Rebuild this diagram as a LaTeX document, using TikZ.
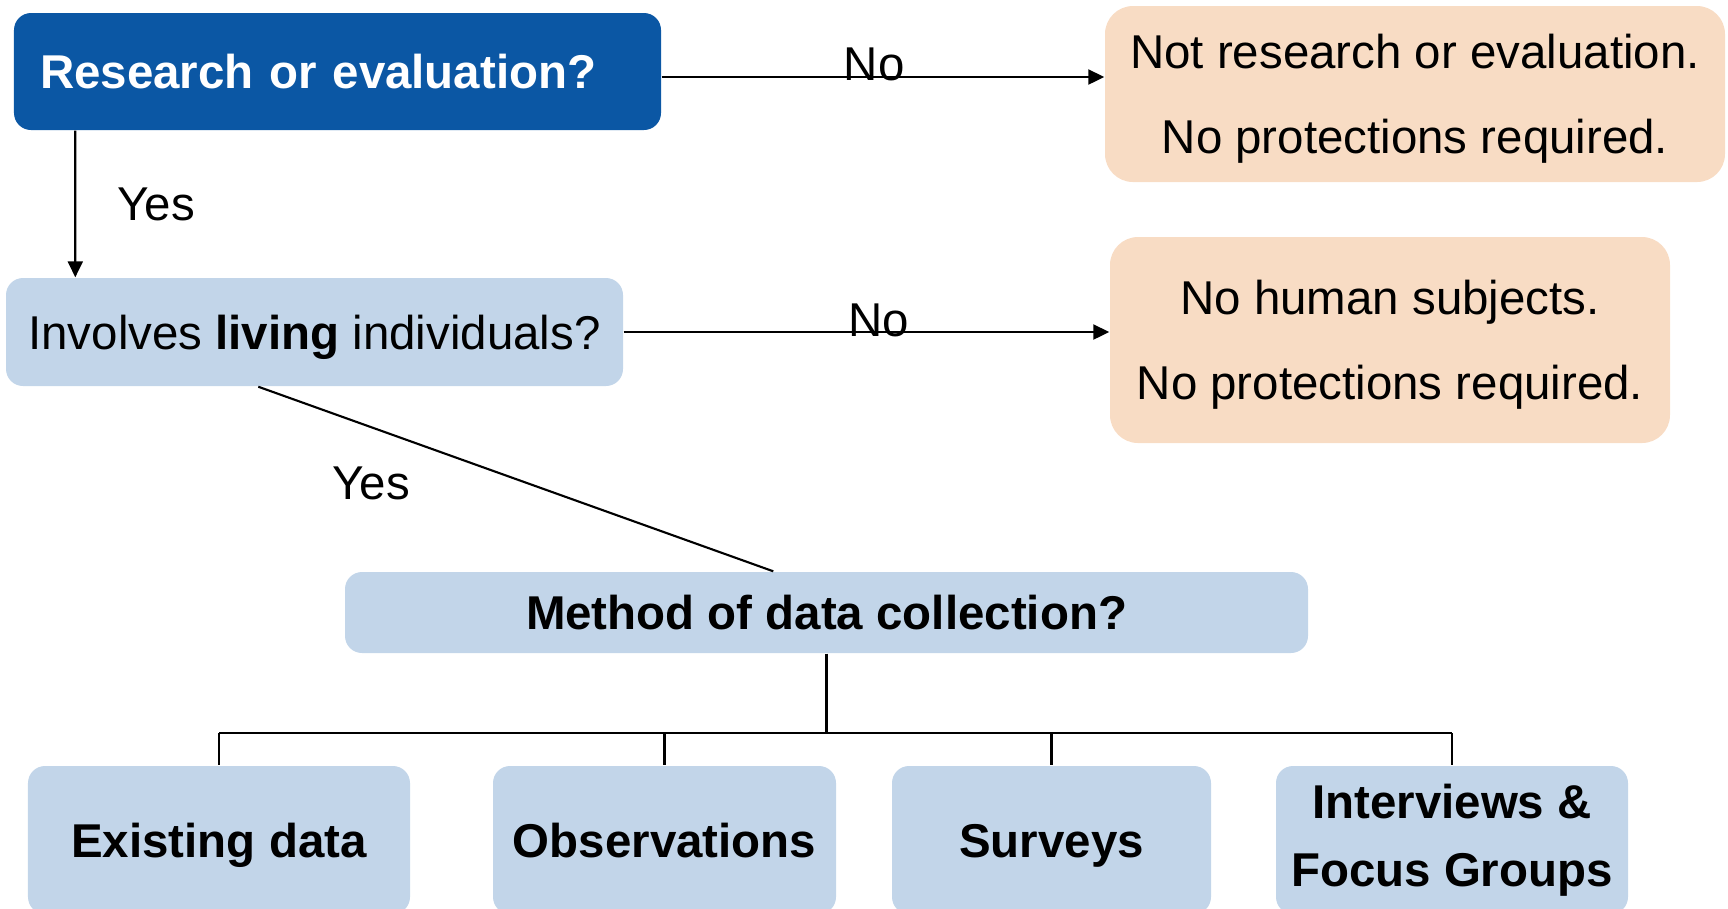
\documentclass[tikz,border=0pt]{standalone}
\usepackage{fontspec}
\setmainfont{Liberation Sans}
\usepackage{xcolor}
\usepackage{tikz}
\usetikzlibrary{shapes,backgrounds,calc,arrows.meta}

\definecolor{darkblue}{HTML}{0B57A4}
\definecolor{lightblue}{HTML}{C2D5E9}
\definecolor{peach}{HTML}{F8DCC4}

\begin{document}
\begin{tikzpicture}
        % Define the styles for the boxes and lines
        \tikzstyle{qbox}=[rectangle, rounded corners=0.17cm, fill=lightblue, inner sep=0pt, font=\fontsize{13.5}{16}\selectfont];
        \tikzstyle{onerow}=[text height=0.34cm, text depth=0cm];
        \tikzstyle{endbox}=[rectangle, rounded corners=0.28cm, fill=peach, inner sep=0pt, align=center, font=\fontsize{13.5}{24}\selectfont];
        \tikzstyle{lbl}=[inner sep=0pt, font=\fontsize{13.5}{16}\selectfont];
        \tikzstyle{link}=[line width=0.6pt, -{Triangle[length=0.16cm,width=0.15cm]}];
        \tikzstyle{tree}=[line width=0.6pt];

        % Page size
        \useasboundingbox (0,0) rectangle (17.28,-9.08);
        \clip (0,0) rectangle (17.28,-9.08);

        % First question
        \node[qbox, onerow, fill=darkblue, text=white, font=\fontsize{13.5}{16}\selectfont\bfseries,
              minimum width=6.47cm, minimum height=1.17cm, text width=5.95cm, align=left, inner xsep=0.26cm]
              (research) at (3.375,-0.715) {Research or evaluation?};
        \node[endbox, minimum width=6.2cm, minimum height=1.76cm] (notres) at (14.15,-0.94)
              {\rule{0pt}{0.44cm}Not research or evaluation.\\No protections required.};

        % Second question
        \node[qbox, onerow, minimum width=6.17cm, minimum height=1.08cm] (living) at (3.145,-3.32)
              {Involves \textbf{living} individuals?};
        \node[endbox, minimum width=5.6cm, minimum height=2.06cm] (nohuman) at (13.9,-3.4)
              {\rule{0pt}{0.44cm}No human subjects.\\No protections required.};

        % Third question
        \node[qbox, onerow, font=\fontsize{13.5}{16}\selectfont\bfseries, minimum width=9.63cm, minimum height=0.81cm]
              (method) at (8.265,-6.125) {Method of data collection?};

        % Methods
        \node[qbox, onerow, font=\fontsize{13.5}{16}\selectfont\bfseries, minimum width=3.82cm, minimum height=1.48cm]
              (existing) at (2.19,-8.40) {Existing data};
        \node[qbox, onerow, font=\fontsize{13.5}{16}\selectfont\bfseries, minimum width=3.43cm, minimum height=1.48cm]
              (observe) at (6.645,-8.40) {Observations};
        \node[qbox, onerow, font=\fontsize{13.5}{16}\selectfont\bfseries, minimum width=3.19cm, minimum height=1.48cm]
              (surveys) at (10.515,-8.40) {Surveys};
        \node[qbox, font=\fontsize{13.5}{19.5}\selectfont\bfseries, align=center, minimum width=3.52cm, minimum height=1.48cm]
              (interview) at (14.52,-8.40) {Interviews \&\\Focus Groups};

        % No arrows
        \draw[link] (research.east |- 0,-0.77) -- (notres.west |- 0,-0.77)
              node[lbl, anchor=base, pos=0.48, yshift=-0.03cm] {No};
        \draw[link] (living.east) -- (living.east -| nohuman.west)
              node[lbl, anchor=base, pos=0.525, yshift=-0.04cm] {No};

        % Yes connectors
        \draw[link] ([xshift=0.62cm]research.south west) -- ([xshift=0.70cm]living.north west)
              node[lbl, pos=0.5, right=0.41cm] {Yes};
        \draw[tree] ([xshift=2.53cm]living.south west) -- ([xshift=4.29cm]method.north west);
        \node[lbl] (yes2) at (3.71,-4.83) {Yes};

        % Tree to the methods
        \coordinate (bus) at (0,-7.33);
        \draw[tree] (method.south) -- (method.south |- bus);
        \draw[tree] (existing.north |- bus) -- (interview.north |- bus);
        \foreach \m in {existing,observe,surveys,interview}
            \draw[tree] (\m.north |- bus) -- (\m.north);

\end{tikzpicture}
\end{document}
